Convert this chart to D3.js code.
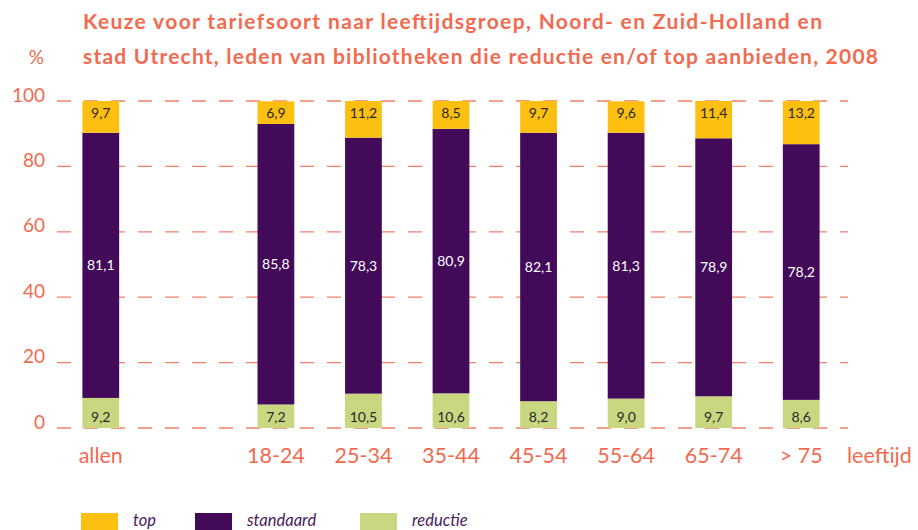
<!DOCTYPE html>
<html>
<head>
<meta charset="utf-8">
<script src="https://cdn.jsdelivr.net/npm/d3@7"></script>
<style>
  body { margin: 0; background: #fff; }
  svg { display: block; font-family: Lato, "Open Sans", sans-serif; }
</style>
</head>
<body>
<div id="chart"></div>
<script>
// groups, with an empty slot between "allen" and the age groups
const groups = ["allen", "", "18-24", "25-34", "35-44", "45-54", "55-64", "65-74", "> 75"];
const ageGroups = ["allen", "18-24", "25-34", "35-44", "45-54", "55-64", "65-74", "> 75"];
const reductieValues = [9.2, 7.2, 10.5, 10.6, 8.2, 9.0, 9.7, 8.6];
const standaardValues = [81.1, 85.8, 78.3, 80.9, 82.1, 81.3, 78.9, 78.2];
const topValues = [9.7, 6.9, 11.2, 8.5, 9.7, 9.6, 11.4, 13.2];
const yTicks = [0, 20, 40, 60, 80, 100];
const seriesNames = ["top", "standaard", "reductie"];

const width = 918, height = 530
const salmon = "#f26a4f"
const colors = {top: "#fdc010", standaard: "#420a59", reductie: "#c8d780"}
const fmt = v => d3.format(".1f")(v).replace(".", ",")

const rows = ageGroups.map((g, i) => ({group: g, reductie: reductieValues[i], standaard: standaardValues[i], top: topValues[i]}))
const stack = d3.stack().keys(["reductie", "standaard", "top"])(rows)

const x = d3.scaleBand()
    .domain(groups)
    .range([57, 845])
    .paddingInner(0.58)
    .paddingOuter(0.29)

const y = d3.scaleLinear()
    .domain([0, 100])
    .range([428, 101])

const svg = d3.select("#chart").append("svg")
    .attr("width", width)
    .attr("height", height)

// title (the original font runs wider than Lato, so stretch the spacing)
svg.append("g")
    .attr("fill", salmon)
    .attr("font-weight", "bold")
    .attr("font-size", "21px")
    .selectAll("text")
    .data([{t: "Keuze voor tariefsoort naar leeftijdsgroep, Noord- en Zuid-Holland en", w: 739},
           {t: "stad Utrecht, leden van bibliotheken die reductie en/of top aanbieden, 2008", w: 795}])
    .join("text")
    .attr("x", 83)
    .attr("y", (d, i) => 29 + i * 35)
    .attr("textLength", d => d.w)
    .attr("lengthAdjust", "spacing")
    .text(d => d.t)

svg.append("text")
    .attr("x", 44).attr("y", 64)
    .attr("text-anchor", "end")
    .attr("fill", salmon)
    .attr("font-size", "19px")
    .text("%")

// dashed gridlines
svg.append("g")
    .selectAll("line")
    .data(yTicks)
    .join("line")
    .attr("x1", 57).attr("x2", 848)
    .attr("y1", d => y(d)).attr("y2", d => y(d))
    .attr("stroke", salmon)
    .attr("stroke-opacity", 0.85)
    .attr("stroke-width", 1.3)
    .attr("stroke-dasharray", "14,13")

// y axis labels
const yAxis = svg.append("g")
    .attr("transform", "translate(45,-6)")
    .call(d3.axisLeft(y).tickValues(yTicks).tickSize(0).tickPadding(0))
yAxis.select(".domain").remove()
yAxis.selectAll(".tick text")
    .attr("fill", salmon)
    .attr("font-size", "19px")
    .attr("font-family", "Lato, 'Open Sans', sans-serif")

// bars
const layers = svg.selectAll(".layer")
    .data(stack)
    .join("g")
    .attr("class", "layer")
    .attr("fill", d => colors[d.key])

layers.selectAll("rect")
    .data(d => d)
    .join("rect")
    .attr("x", d => x(d.data.group))
    .attr("width", x.bandwidth())
    .attr("y", d => y(d[1]))
    .attr("height", d => y(d[0]) - y(d[1]))

// value labels
layers.selectAll("text")
    .data(d => d.map(v => ({key: d.key, v})))
    .join("text")
    .attr("x", d => x(d.v.data.group) + x.bandwidth() / 2)
    .attr("y", d => {
        if (d.key === "top") return y(d.v[1]) + 17
        if (d.key === "reductie") return y(d.v[0]) - 6
        return (y(d.v[0]) + y(d.v[1])) / 2 + 5
    })
    .attr("text-anchor", "middle")
    .attr("font-size", "14px")
    .attr("fill", d => d.key === "standaard" ? "#fff" : "#2a2a2a")
    .text(d => fmt(d.v.data[d.key]))

// x axis labels
const xAxis = svg.append("g")
    .attr("transform", "translate(0,463)")
    .call(d3.axisBottom(x).tickSize(0).tickPadding(0))
xAxis.select(".domain").remove()
xAxis.selectAll(".tick text")
    .attr("dy", 0)
    .attr("fill", salmon)
    .attr("font-size", "21.5px")
    .attr("font-family", "Lato, 'Open Sans', sans-serif")

svg.append("text")
    .attr("x", 847).attr("y", 463)
    .attr("fill", salmon)
    .attr("font-size", "21.5px")
    .text("leeftijd")

// legend
const legend = svg.append("g")
    .selectAll("g")
    .data(seriesNames)
    .join("g")
    .attr("transform", (d, i) => `translate(${[81, 195, 360][i]},513)`)
legend.append("rect")
    .attr("width", 37).attr("height", 17)
    .attr("fill", d => colors[d])
legend.append("text")
    .attr("x", 52).attr("y", 13)
    .attr("fill", "#4a1a5e")
    .attr("font-style", "italic")
    .attr("font-size", "16.5px")
    .text(d => d)
</script>
</body>
</html>
